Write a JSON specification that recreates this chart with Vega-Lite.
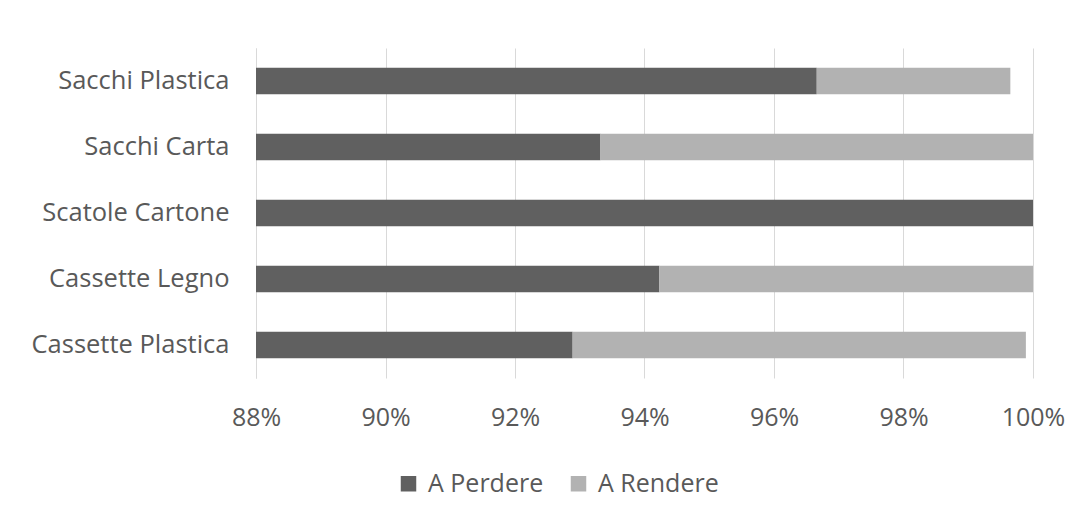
{
  "$schema": "https://vega.github.io/schema/vega-lite/v6.json",
  "width": 777,
  "height": 330,
  "autosize": {"type": "none"},
  "padding": {"left": 256, "top": 48, "right": 59, "bottom": 143},
  "background": "white",
  "config": {
    "view": {"stroke": null},
    "font": "Open Sans",
    "axis": {"labelFont": "Open Sans", "labelColor": "#595959", "gridColor": "#d9d9d9", "gridWidth": 1},
    "legend": {"labelFont": "Open Sans", "labelColor": "#595959"}
  },
  "data": {
    "values": [
      {"categoria": "Sacchi Plastica", "tipo": "A Perdere", "quota": 0.9666},
      {"categoria": "Sacchi Plastica", "tipo": "A Rendere", "quota": 0.0299},
      {"categoria": "Sacchi Carta", "tipo": "A Perdere", "quota": 0.9332},
      {"categoria": "Sacchi Carta", "tipo": "A Rendere", "quota": 0.0668},
      {"categoria": "Scatole Cartone", "tipo": "A Perdere", "quota": 1.0},
      {"categoria": "Scatole Cartone", "tipo": "A Rendere", "quota": 0.0},
      {"categoria": "Cassette Legno", "tipo": "A Perdere", "quota": 0.9423},
      {"categoria": "Cassette Legno", "tipo": "A Rendere", "quota": 0.0577},
      {"categoria": "Cassette Plastica", "tipo": "A Perdere", "quota": 0.9289},
      {"categoria": "Cassette Plastica", "tipo": "A Rendere", "quota": 0.0700}
    ]
  },
  "mark": {"type": "bar", "clip": true},
  "encoding": {
    "y": {
      "field": "categoria",
      "type": "nominal",
      "sort": ["Sacchi Plastica", "Sacchi Carta", "Scatole Cartone", "Cassette Legno", "Cassette Plastica"],
      "scale": {"paddingInner": 0.6, "paddingOuter": 0.3},
      "axis": {
        "title": null,
        "ticks": false,
        "domain": true,
        "domainColor": "#d9d9d9",
        "labelPadding": 27,
        "labelFontSize": 25.5,
        "labelLimit": 300
      }
    },
    "x": {
      "field": "quota",
      "type": "quantitative",
      "stack": "zero",
      "scale": {"domain": [0.88, 1.0], "nice": false, "zero": false},
      "axis": {
        "title": null,
        "format": ".0%",
        "values": [0.88, 0.9, 0.92, 0.94, 0.96, 0.98, 1.0],
        "domain": false,
        "ticks": false,
        "grid": true,
        "labelPadding": 27,
        "labelFontSize": 25,
        "labelFlush": false
      }
    },
    "color": {
      "field": "tipo",
      "type": "nominal",
      "scale": {"domain": ["A Perdere", "A Rendere"], "range": ["#606060", "#b2b2b2"]},
      "legend": {
        "title": null,
        "orient": "none",
        "direction": "horizontal",
        "legendX": 140,
        "legendY": 423,
        "symbolType": "square",
        "symbolSize": 240,
        "symbolStrokeWidth": 0,
        "labelFontSize": 25,
        "columnPadding": 22,
        "labelOffset": 7
      }
    },
    "order": {"field": "tipo", "sort": "ascending"}
  }
}
